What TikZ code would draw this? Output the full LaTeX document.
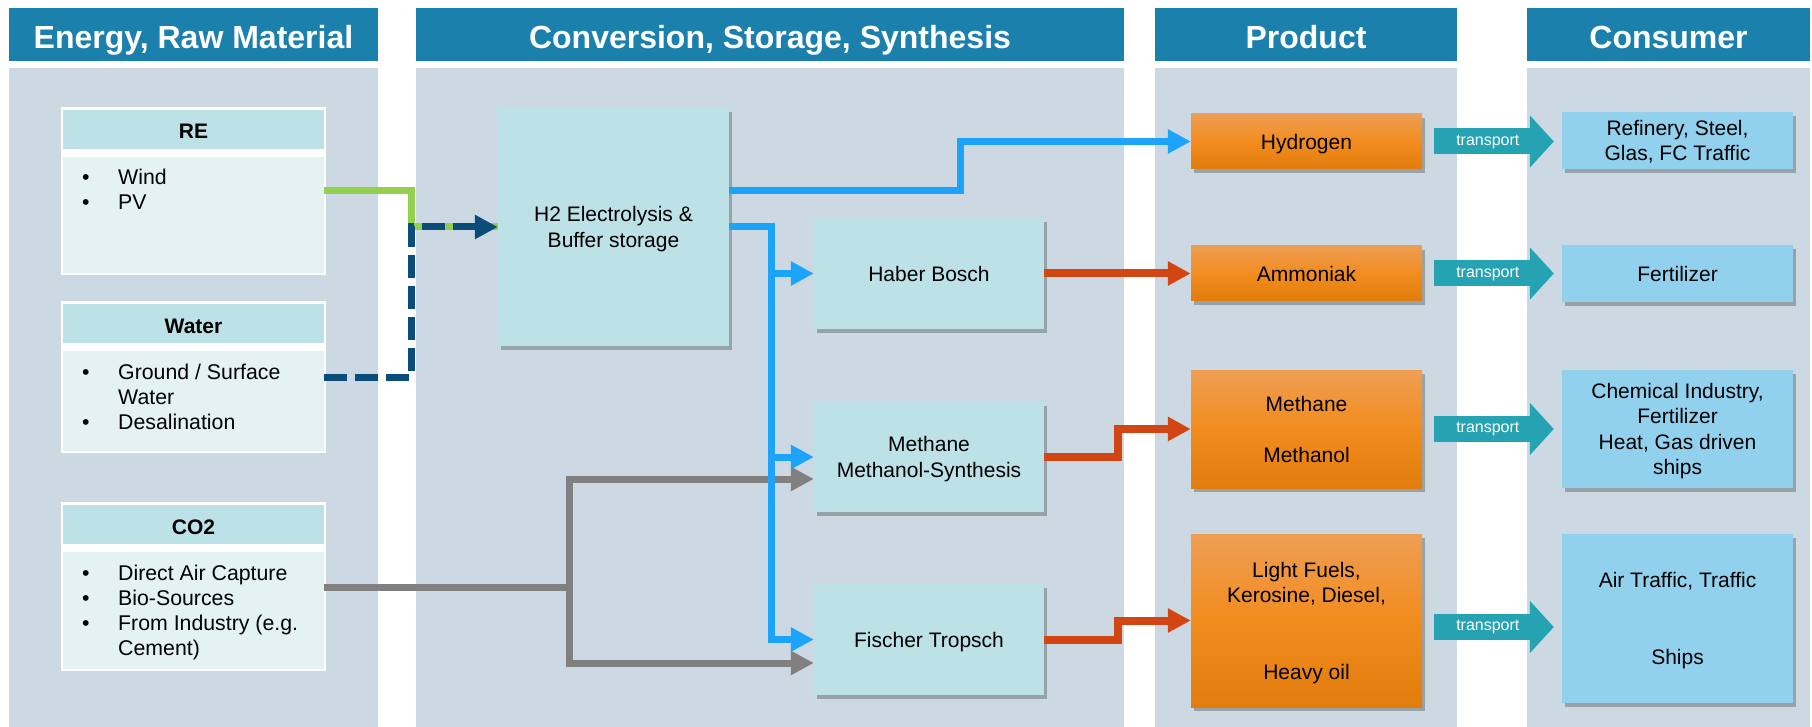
\documentclass[tikz,border=0pt]{standalone}
\usepackage{fontspec}
\setmainfont{Liberation Sans}
\usetikzlibrary{arrows.meta,shadows,calc}
\definecolor{hdrblue}{RGB}{27,128,171}
\definecolor{colbg}{RGB}{204,217,226}
\definecolor{cyanbox}{RGB}{188,225,231}
\definecolor{lightbody}{RGB}{228,242,244}
\definecolor{consblue}{RGB}{145,209,238}
\definecolor{trteal}{RGB}{38,163,179}
\definecolor{dashblue}{RGB}{10,76,122}
\definecolor{lgreen}{RGB}{146,208,80}
\definecolor{skyblue}{RGB}{28,163,250}
\definecolor{lgray}{RGB}{128,128,128}
\definecolor{redorange}{RGB}{210,70,20}
\definecolor{orgtop}{RGB}{238,158,84}
\definecolor{orgmid}{RGB}{242,140,30}
\definecolor{orgbot}{RGB}{226,124,12}
\begin{document}
\begin{tikzpicture}[x=1pt,y=-1pt,
  hdr/.style={fill=hdrblue,text=white,font=\fontsize{32}{36}\selectfont\bfseries,minimum height=53pt,inner sep=0pt,text height=27.6pt,text depth=0pt},
  colbox/.style={fill=colbg,inner sep=0pt,minimum height=659pt},
  framebox/.style={fill=white,inner sep=0pt,minimum width=265pt},
  bhead/.style={fill=cyanbox,inner sep=0pt,minimum width=261pt,minimum height=39pt,font=\fontsize{21}{25}\selectfont\bfseries,text height=19pt,text depth=0pt},
  bbody/.style={fill=lightbody,inner sep=0pt,minimum width=261pt},
  btext/.style={anchor=base west,inner sep=0pt,font=\fontsize{21.3}{25}\selectfont},
  shadowed/.style={drop shadow={opacity=0.25,shadow xshift=3pt,shadow yshift=-4pt,fill=black}},
  proc/.style={fill=cyanbox,inner sep=0pt,minimum width=230pt,align=center,font=\fontsize{21}{26}\selectfont,text depth=0pt,shadowed},
  prod/.style={top color=orgtop,bottom color=orgbot,middle color=orgmid,inner sep=0pt,minimum width=231pt,align=center,font=\fontsize{21}{25.5}\selectfont,text depth=0pt,shadowed},
  cons/.style={fill=consblue,inner sep=0pt,minimum width=231pt,align=center,font=\fontsize{21}{25.5}\selectfont,text depth=0pt,shadowed},
  ln/.style={line width=7pt},
  tip/.style={-{Triangle[length=23pt,width=23pt]}},
  transport/.style={line width=26pt,draw=trteal,-{Triangle[length=24pt,width=51pt]},shorten <=12pt,shorten >=8pt},
  tlabel/.style={text=white,font=\fontsize{16}{18}\selectfont,inner sep=0pt}
]
\useasboundingbox[fill=white] (0,0) rectangle (1812,727);

% column headers and backgrounds
\node[hdr,minimum width=369pt] (h1) at (193.5,34.5) {Energy, Raw Material};
\node[hdr,minimum width=708pt] (h2hdr) at (770,34.5) {Conversion, Storage, Synthesis};
\node[hdr,minimum width=302pt] (h3) at (1306,34.5) {Product};
\node[hdr,minimum width=283pt] (h4) at (1668.5,34.5) {Consumer};
\node[colbox,minimum width=369pt] (c1bg) at (193.5,397.5) {};
\node[colbox,minimum width=708pt] (c2bg) at (770,397.5) {};
\node[colbox,minimum width=302pt] (c3bg) at (1306,397.5) {};
\node[colbox,minimum width=283pt] (c4bg) at (1668.5,397.5) {};

% left boxes
\node[framebox,minimum height=168pt] (re) at (193.5,191) {};
\node[bhead] (rehead) at (193.5,129.5) {RE};
\node[bbody,minimum height=116pt] (rebody) at (193.5,215) {};
\node[btext] (retext) at (82,185) {\begin{tabular}[t]{@{}p{36pt}@{}l@{}}\textbullet & Wind\\ \textbullet & PV\end{tabular}};

\node[framebox,minimum height=152pt] (wa) at (193.5,377) {};
\node[bhead] (wahead) at (193.5,323.5) {Water};
\node[bbody,minimum height=100pt] (wabody) at (193.5,401) {};
\node[btext] (watext) at (82,379) {\begin{tabular}[t]{@{}p{36pt}@{}l@{}}\textbullet & Ground / Surface\\ & Water\\ \textbullet & Desalination\end{tabular}};

\node[framebox,minimum height=169pt] (co) at (193.5,586.5) {};
\node[bhead] (cohead) at (193.5,524.5) {CO2};
\node[bbody,minimum height=117pt] (cobody) at (193.5,610.5) {};
\node[btext] (cotext) at (82,580) {\begin{tabular}[t]{@{}p{36pt}@{}l@{}}\textbullet & Direct Air Capture\\ \textbullet & Bio-Sources\\ \textbullet & From Industry (e.g.\\ & Cement)\end{tabular}};

% process boxes
\node[proc,minimum width=231pt,minimum height=238pt] (h2) at (613.5,227) {H2 Electrolysis \&\\Buffer storage};
\node[proc,minimum height=111pt] (hb) at (929,273.5) {Haber Bosch};
\node[proc,minimum height=110pt] (ms) at (929,457) {Methane\\Methanol-Synthesis};
\node[proc,minimum height=111pt] (ft) at (929,639.5) {Fischer Tropsch};

% products
\node[prod,minimum height=55pt] (hyd) at (1306.5,141.5) {Hydrogen};
\node[prod,minimum height=55pt] (amm) at (1306.5,273.5) {Ammoniak};
\node[prod,minimum height=118pt] (mm) at (1306.5,429) {Methane\\[25.5pt]Methanol};
\node[prod,minimum height=173pt] (lf) at (1306.5,620.5) {Light Fuels,\\Kerosine, Diesel,\\[51pt]Heavy oil};

% consumers
\node[cons,minimum height=57pt] (cs1) at (1677.5,140.5) {Refinery, Steel,\\Glas, FC Traffic};
\node[cons,minimum height=57pt] (cs2) at (1677.5,273.5) {Fertilizer};
\node[cons,minimum height=118pt] (cs3) at (1677.5,429) {Chemical Industry,\\Fertilizer\\Heat, Gas driven\\ships};
\node[cons,minimum height=169pt] (cs4) at (1677.5,618.5) {Air Traffic, Traffic\\[51pt]Ships};

% helper coordinates
\coordinate (dtrunk) at (411,0);
\coordinate (gtrunk) at (569,0);
\coordinate (btrunk) at (771,0);
\coordinate (bstep) at (960,0);
\coordinate (ostep) at (1118,0);
\coordinate (rout) at ($(rebody.east)+(0,-24)$);
\coordinate (wout) at ($(wabody.east)+(0,-24)$);
\coordinate (cout) at ($(cobody.east)+(0,-23.5)$);
\coordinate (h2up) at ($(h2.east)+(0,-36)$);
\coordinate (gm) at ($(ms.west)+(0,22)$);
\coordinate (gf) at ($(ft.west)+(0,23.5)$);

% green and dashed inputs
\draw[ln,draw=lgreen] (rout) -| (dtrunk |- h2.west) -- (h2.west);
\draw[ln,draw=dashblue,dash pattern=on 23pt off 8pt,tip] (wout) -| (dtrunk |- h2.west) -- (h2.west);

% CO2 gray
\draw[ln,draw=lgray] (cout) -- (gtrunk |- cout);
\draw[ln,draw=lgray,tip] (gtrunk |- cout) |- (gm);
\draw[ln,draw=lgray,tip] (gtrunk |- cout) |- (gf);

% hydrogen blue
\draw[ln,draw=skyblue,tip] (h2up) -| (bstep |- hyd.west) -- (hyd.west);
\draw[ln,draw=skyblue,tip] (h2.east) -| (btrunk |- ft.west) -- (ft.west);
\draw[ln,draw=skyblue,tip] (btrunk |- hb.west) -- (hb.west);
\draw[ln,draw=skyblue,tip] (btrunk |- ms.west) -- (ms.west);

% orange
\draw[ln,line width=8pt,draw=redorange,tip] (hb.east) -- (amm.west);
\draw[ln,line width=8pt,draw=redorange,tip] (ms.east) -| (ostep |- mm.west) -- (mm.west);
\draw[ln,line width=8pt,draw=redorange,tip] (ft.east) -| (ostep |- lf.west) -- (lf.west);

% transport
\draw[transport] (hyd.east) -- (hyd.east -| cs1.west) node[tlabel,pos=0.47] (t1) {transport};
\draw[transport] (amm.east) -- (amm.east -| cs2.west) node[tlabel,pos=0.47] (t2) {transport};
\draw[transport] (mm.east) -- (mm.east -| cs3.west) node[tlabel,pos=0.47] (t3) {transport};
\draw[transport] ($(lf.east)+(0,6.5)$) -- ($(lf.east -| cs4.west)+(0,6.5)$) node[tlabel,pos=0.47] (t4) {transport};
\end{tikzpicture}
\end{document}
